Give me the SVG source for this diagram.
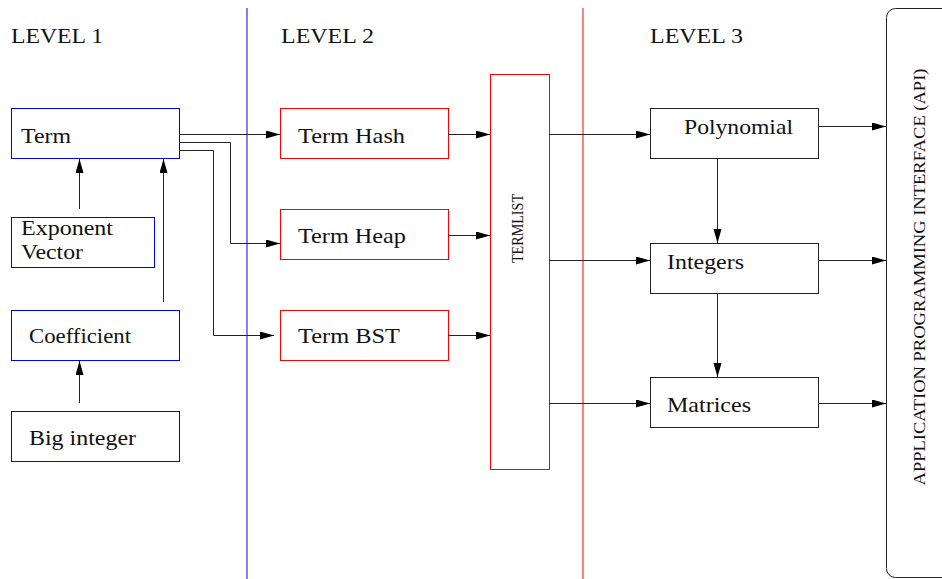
<svg xmlns="http://www.w3.org/2000/svg" width="942" height="579" viewBox="0 0 942 579" font-family="'Liberation Serif', 'Times New Roman', serif">
<style>
text{font-family:'Liberation Serif','Times New Roman',serif;font-size:21px;fill:#111}
.bl{fill:#fff;stroke:#0000ff;stroke-width:1}
.rd{fill:#fff;stroke:#ff0000;stroke-width:1}
.bk{fill:#fff;stroke:#222;stroke-width:1}
.c{fill:none;stroke:#222;stroke-width:1;marker-end:url(#ah)}
text.sm{font-size:16px}
</style>
<defs>
<marker id="ah" markerUnits="userSpaceOnUse" markerWidth="15" markerHeight="9" refX="14" refY="4" orient="auto">
<path d="M0,0 L14,4 L0,8 Z" fill="#000"/>
</marker>
</defs>
<g id="dividers">
<line x1="247" y1="8" x2="247" y2="579" stroke="#0000ff" stroke-width="1"/>
<line x1="583" y1="8" x2="583" y2="579" stroke="#ff0000" stroke-width="1"/>
</g>
<g id="levels">
<text x="11" y="43" textLength="92" lengthAdjust="spacingAndGlyphs">LEVEL 1</text>
<text x="281" y="43" textLength="93" lengthAdjust="spacingAndGlyphs">LEVEL 2</text>
<text x="650" y="43" textLength="93" lengthAdjust="spacingAndGlyphs">LEVEL 3</text>
</g>
<g id="term"><rect class="bl" x="11.5" y="108.5" width="168" height="50"/><text x="21" y="142.5" textLength="50" lengthAdjust="spacingAndGlyphs">Term</text></g>
<g id="exponent"><rect class="bl" x="11.5" y="217.5" width="143" height="50"/><text x="21" y="235" textLength="92" lengthAdjust="spacingAndGlyphs">Exponent</text><text x="21" y="259" textLength="62" lengthAdjust="spacingAndGlyphs">Vector</text></g>
<g id="coefficient"><rect class="bl" x="11.5" y="310.5" width="168" height="50"/><text x="29" y="343" textLength="102" lengthAdjust="spacingAndGlyphs">Coefficient</text></g>
<g id="biginteger"><rect class="bl" x="11.5" y="411.5" width="168" height="50"/><text x="29" y="444.5" textLength="107" lengthAdjust="spacingAndGlyphs">Big integer</text></g>
<g id="termhash"><rect class="rd" x="280.5" y="108.5" width="168" height="50"/><text x="298" y="142.5" textLength="107" lengthAdjust="spacingAndGlyphs">Term Hash</text></g>
<g id="termheap"><rect class="rd" x="280.5" y="209.5" width="168" height="50"/><text x="298" y="243" textLength="108" lengthAdjust="spacingAndGlyphs">Term Heap</text></g>
<g id="termbst"><rect class="rd" x="280.5" y="310.5" width="168" height="50"/><text x="298" y="343" textLength="102" lengthAdjust="spacingAndGlyphs">Term BST</text></g>
<g id="termlist"><rect class="rd" x="490.5" y="74.5" width="59" height="395"/><text class="sm" transform="translate(523,228.5) rotate(-90)" text-anchor="middle" textLength="69" lengthAdjust="spacingAndGlyphs">TERMLIST</text></g>
<g id="polynomial"><rect class="bk" x="650.5" y="108.5" width="168" height="50"/><text x="684" y="133.5" textLength="109" lengthAdjust="spacingAndGlyphs">Polynomial</text></g>
<g id="integers"><rect class="bk" x="650.5" y="243.5" width="168" height="50"/><text x="667" y="269" textLength="77" lengthAdjust="spacingAndGlyphs">Integers</text></g>
<g id="matrices"><rect class="bk" x="650.5" y="377.5" width="168" height="50"/><text x="667" y="412" textLength="84" lengthAdjust="spacingAndGlyphs">Matrices</text></g>
<g id="api"><rect x="886.5" y="8.5" width="80" height="569" rx="9" fill="#fff" stroke="#222" stroke-width="1"/><text class="sm" transform="translate(925,277) rotate(-90)" text-anchor="middle" textLength="417" lengthAdjust="spacingAndGlyphs">APPLICATION PROGRAMMING INTERFACE (API)</text></g>
<g id="connectors">
<path class="c" d="M79.5,209 V159"/>
<path class="c" d="M163.5,302 V159"/>
<path class="c" d="M79.5,403 V361"/>
<path class="c" d="M179,134.5 H280"/>
<path class="c" d="M179,142.5 H230.5 V243.5 H280"/>
<path class="c" d="M179,150.5 H213.5 V335.5 H274"/>
<path class="c" d="M448,134.5 H490"/>
<path class="c" d="M448,235.5 H490"/>
<path class="c" d="M448,335.5 H490"/>
<path class="c" d="M549,134.5 H650"/>
<path class="c" d="M549,260.5 H650"/>
<path class="c" d="M549,403.5 H650"/>
<path class="c" d="M717.5,159 V243"/>
<path class="c" d="M717.5,294 V377"/>
<path class="c" d="M818,126.5 H886"/>
<path class="c" d="M818,260.5 H886"/>
<path class="c" d="M818,403.5 H886"/>
</g>
</svg>
